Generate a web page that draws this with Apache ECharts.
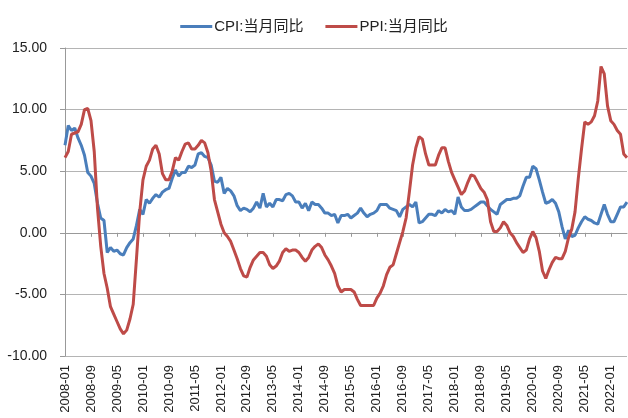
<!DOCTYPE html>
<html><head><meta charset="utf-8">
<script src="https://cdn.jsdelivr.net/npm/echarts@6/dist/echarts.min.js"></script>
<style>html,body{margin:0;padding:0;background:#fff}#c{width:628px;height:418px}</style>
</head><body><div id="c"></div>
<script>
var startYear = 2008, endYear = 2022, endMonth = 6;
var categories = [];
for (var y = startYear; y <= endYear; y++) {
  for (var m = 1; m <= 12; m++) {
    if (y === endYear && m > endMonth) break;
    categories.push(y + '-' + (m < 10 ? '0' + m : m));
  }
}
var cpi = [
  7.1, 8.7, 8.3, 8.5, 7.7, 7.1, 6.3, 4.9, 4.6, 4.0, 2.4, 1.2,
  1.0, -1.6, -1.2, -1.5, -1.4, -1.7, -1.8, -1.2, -0.8, -0.5, 0.6, 1.9,
  1.5, 2.7, 2.4, 2.8, 3.1, 2.9, 3.3, 3.5, 3.6, 4.4, 5.1, 4.6,
  4.9, 4.9, 5.4, 5.3, 5.5, 6.4, 6.5, 6.2, 6.1, 5.5, 4.2, 4.1,
  4.5, 3.2, 3.6, 3.4, 3.0, 2.2, 1.8, 2.0, 1.9, 1.7, 2.0, 2.5,
  2.0, 3.2, 2.1, 2.4, 2.1, 2.7, 2.7, 2.6, 3.1, 3.2, 3.0, 2.5,
  2.5, 2.0, 2.4, 1.8, 2.5, 2.3, 2.3, 2.0, 1.6, 1.6, 1.4, 1.5,
  0.8, 1.4, 1.4, 1.5, 1.2, 1.4, 1.6, 2.0, 1.6, 1.3, 1.5, 1.6,
  1.8, 2.3, 2.3, 2.3, 2.0, 1.9, 1.8, 1.3, 1.9, 2.1, 2.3, 2.1,
  2.5, 0.8, 0.9, 1.2, 1.5, 1.5, 1.4, 1.8, 1.6, 1.9, 1.7, 1.8,
  1.5, 2.9, 2.1, 1.8, 1.8, 1.9, 2.1, 2.3, 2.5, 2.5, 2.2, 1.9,
  1.7, 1.5, 2.3, 2.5, 2.7, 2.7, 2.8, 2.8, 3.0, 3.8, 4.5, 4.5,
  5.4, 5.2, 4.3, 3.3, 2.4, 2.5, 2.7, 2.4, 1.7, 0.5, -0.5, 0.2,
  -0.3, -0.2, 0.4, 0.9, 1.3, 1.1, 1.0, 0.8, 0.7, 1.5, 2.3, 1.5,
  0.9, 0.9, 1.5, 2.1, 2.1, 2.5
];
var ppi = [
  6.1, 6.6, 8.0, 8.1, 8.2, 8.8, 10.0, 10.1, 9.1, 6.6, 2.0, -1.1,
  -3.3, -4.5, -6.0, -6.6, -7.2, -7.8, -8.2, -7.9, -7.0, -5.8, -2.1, 1.7,
  4.3, 5.4, 5.9, 6.8, 7.1, 6.4, 4.8, 4.3, 4.3, 5.0, 6.1, 5.9,
  6.6, 7.2, 7.3, 6.8, 6.8, 7.1, 7.5, 7.3, 6.5, 5.0, 2.7, 1.7,
  0.7, 0.0, -0.3, -0.7, -1.4, -2.1, -2.9, -3.5, -3.6, -2.8, -2.2, -1.9,
  -1.6, -1.6, -1.9, -2.6, -2.9, -2.7, -2.3, -1.6, -1.3, -1.5, -1.4, -1.4,
  -1.6, -2.0, -2.3, -2.0, -1.4, -1.1, -0.9, -1.2, -1.8, -2.2, -2.7, -3.3,
  -4.3, -4.8, -4.6, -4.6, -4.6, -4.8, -5.4, -5.9, -5.9, -5.9, -5.9, -5.9,
  -5.3, -4.9, -4.3, -3.4, -2.8, -2.6, -1.7, -0.8, 0.1, 1.2, 3.3, 5.5,
  6.9, 7.8, 7.6, 6.4, 5.5, 5.5, 5.5, 6.3, 6.9, 6.9, 5.8, 4.9,
  4.3, 3.7, 3.1, 3.4, 4.1, 4.7, 4.6, 4.1, 3.6, 3.3, 2.7, 0.9,
  0.1, 0.1, 0.4, 0.9, 0.6, 0.0, -0.3, -0.8, -1.2, -1.6, -1.4, -0.5,
  0.1, -0.4, -1.5, -3.1, -3.7, -3.0, -2.4, -2.0, -2.1, -2.1, -1.5, -0.4,
  0.3, 1.7, 4.4, 6.8, 9.0, 8.8, 9.0, 9.5, 10.7, 13.5, 12.9, 10.3,
  9.1, 8.8, 8.3, 8.0, 6.4, 6.1
];
var seriesNames = ['CPI:当月同比', 'PPI:当月同比'];
var yTicks = { min: -10, max: 15, interval: 5 };

var font = "'Liberation Sans', 'Noto Sans CJK SC', sans-serif";
var chart = echarts.init(document.getElementById('c'));
chart.setOption({
  animation: false,
  backgroundColor: '#fff',
  legend: {
    top: 14, left: 'center', itemWidth: 32, itemHeight: 3, itemGap: 22,
    icon: 'rect',
    textStyle: { fontFamily: font, fontSize: 15, color: '#222', padding: [0, 0, 0, -3] },
    data: seriesNames
  },
  grid: { left: 65, right: 1, top: 48, bottom: 62 },
  xAxis: {
    type: 'category', data: categories, boundaryGap: false,
    axisLine: { lineStyle: { color: '#999', width: 1 } },
    axisTick: { interval: 7, length: 4, lineStyle: { color: '#999' } },
    axisLabel: { interval: 7, rotate: 90, fontFamily: font, fontSize: 13, color: '#222', margin: 9 },
    splitLine: { show: false }
  },
  yAxis: {
    type: 'value', min: yTicks.min, max: yTicks.max, interval: yTicks.interval,
    axisLine: { show: true, lineStyle: { color: '#999', width: 1 } },
    axisTick: { show: true, length: 5, lineStyle: { color: '#999' } },
    axisLabel: { fontFamily: font, fontSize: 14, color: '#222', margin: 18,
      formatter: function (v) { return v.toFixed(2); } },
    splitLine: { lineStyle: { color: '#b4b4b4', width: 1 } }
  },
  series: [
    { name: seriesNames[0], type: 'line', data: cpi, showSymbol: false, smooth: false,
      lineStyle: { color: '#4A7EBB', width: 3 }, itemStyle: { color: '#4A7EBB' } },
    { name: seriesNames[1], type: 'line', data: ppi, showSymbol: false, smooth: false,
      lineStyle: { color: '#BE4B48', width: 3 }, itemStyle: { color: '#BE4B48' } }
  ]
});
</script></body></html>
